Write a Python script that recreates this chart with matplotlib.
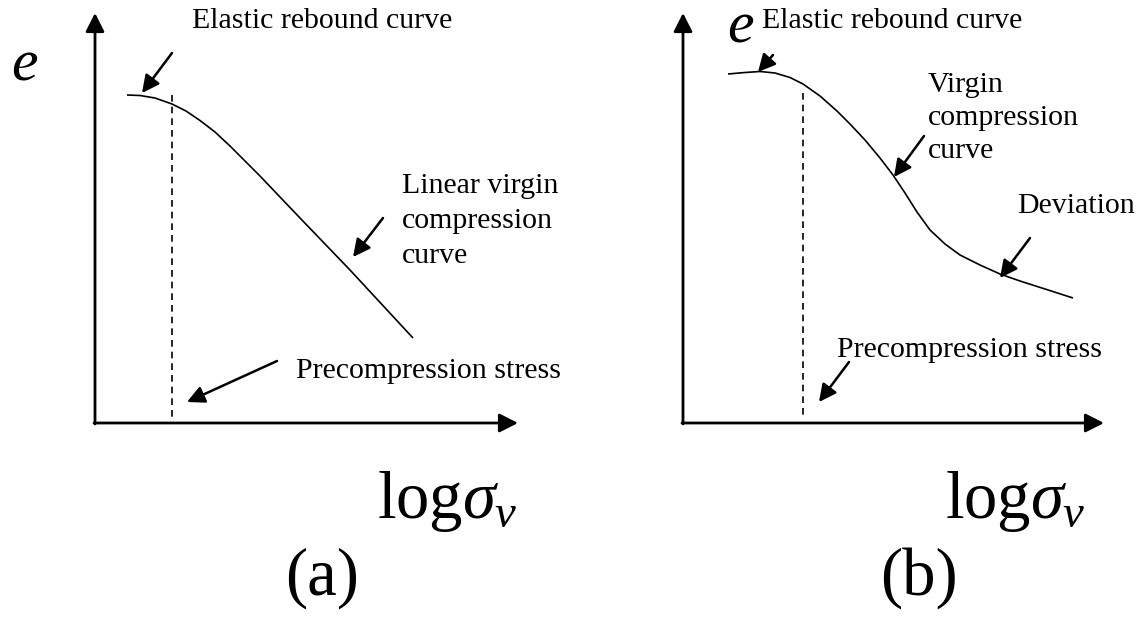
import matplotlib
matplotlib.use("Agg")
import matplotlib.pyplot as plt

plt.rcParams['font.family'] = ['Liberation Serif', 'DejaVu Serif']
plt.rcParams['mathtext.fontset'] = 'custom'
plt.rcParams['mathtext.rm'] = 'Liberation Serif'
plt.rcParams['mathtext.it'] = 'Liberation Serif:italic'

# ---- schematic data (drawing units = reference pixels) ----
curve_a_x = [127, 140, 155, 172, 186, 200, 215, 230, 243, 260, 300, 350, 413]
curve_a_y = [95, 95.5, 98, 104, 111, 120.5, 132, 146, 159, 176, 218, 270, 338]

curve_b_x = [728, 745, 760, 775, 790, 803, 820, 837, 850, 865, 880, 893, 905, 917,
             930, 945, 960, 980, 1000, 1020, 1045, 1073]
curve_b_y = [74, 72.5, 71.5, 73, 77.5, 84, 96, 111, 124, 140, 158, 175, 193, 212,
             230, 244, 255, 265, 274, 281, 289, 298]

precon_a = 172
precon_b = 803

labels_a = ["Elastic rebound curve", ["Linear virgin", "compression", "curve"], "Precompression stress"]
labels_b = ["Elastic rebound curve", ["Virgin", "compression", "curve"], "Deviation", "Precompression stress"]
panel_tags = ["(a)", "(b)"]
axis_label = r"$\mathrm{log}\sigma_{v}$"
y_label = r"$e$"

W, H = 1144, 617
fig = plt.figure(figsize=(W / 100, H / 100), dpi=100)
ax = fig.add_axes([0, 0, 1, 1])
ax.set_xlim(0, W)
ax.set_ylim(H, 0)
ax.axis('off')

small = 21.5
big = 48


def axis_arrow(x0, y0, x1, y1):
    ax.annotate("", xy=(x1, y1), xytext=(x0, y0),
                arrowprops=dict(arrowstyle='-|>,head_length=0.75,head_width=0.38',
                                lw=2.0, color='black', mutation_scale=15,
                                shrinkA=0, shrinkB=0))


def pointer(x0, y0, x1, y1):
    ax.annotate("", xy=(x1, y1), xytext=(x0, y0),
                arrowprops=dict(arrowstyle='-|>,head_length=0.7,head_width=0.35',
                                lw=1.8, color='black', mutation_scale=15,
                                shrinkA=0, shrinkB=0))


def lines(x, y0, rows, step):
    for i, r in enumerate(rows):
        ax.text(x, y0 + i * step, r, fontsize=small, va='baseline', ha='left')


# ---- panel (a) ----
axis_arrow(95, 424, 95, 13)
axis_arrow(94, 423, 518, 423)
ax.plot(curve_a_x, curve_a_y, color='black', lw=1.2, solid_capstyle='butt')
ax.plot([precon_a, precon_a], [95, 417], color='black', lw=1.2, dashes=(4, 3))
ax.text(192, 28, labels_a[0], fontsize=small, va='baseline', ha='left')
pointer(172, 53, 142, 93)
lines(402, 193, labels_a[1], 35)
pointer(383, 218, 353, 257)
ax.text(296, 378, labels_a[2], fontsize=small, va='baseline', ha='left')
pointer(277, 361, 187, 402)
ax.text(25, 80, y_label, fontsize=43, va='baseline', ha='center')
ax.text(377, 518, axis_label, fontsize=big, va='baseline', ha='left')
ax.text(322, 595, panel_tags[0], fontsize=big, va='baseline', ha='center')

# ---- panel (b) ----
axis_arrow(683, 424, 683, 13)
axis_arrow(682, 423, 1104, 423)
ax.plot(curve_b_x, curve_b_y, color='black', lw=1.2, solid_capstyle='butt')
ax.plot([precon_b, precon_b], [93, 417], color='black', lw=1.2, dashes=(4, 3))
ax.text(762, 28, labels_b[0], fontsize=small, va='baseline', ha='left')
pointer(773, 55, 758, 72)
lines(928, 92, labels_b[1], 33)
pointer(924, 136, 894, 177)
ax.text(1017, 213, labels_b[2], fontsize=small, va='baseline', ha='left')
pointer(1030, 238, 1000, 278)
ax.text(837, 357, labels_b[3], fontsize=small, va='baseline', ha='left')
pointer(849, 362, 819, 402)
ax.text(741, 42, y_label, fontsize=43, va='baseline', ha='center')
ax.text(945, 518, axis_label, fontsize=big, va='baseline', ha='left')
ax.text(919, 595, panel_tags[1], fontsize=big, va='baseline', ha='center')

fig.savefig("out.png", dpi=100)
